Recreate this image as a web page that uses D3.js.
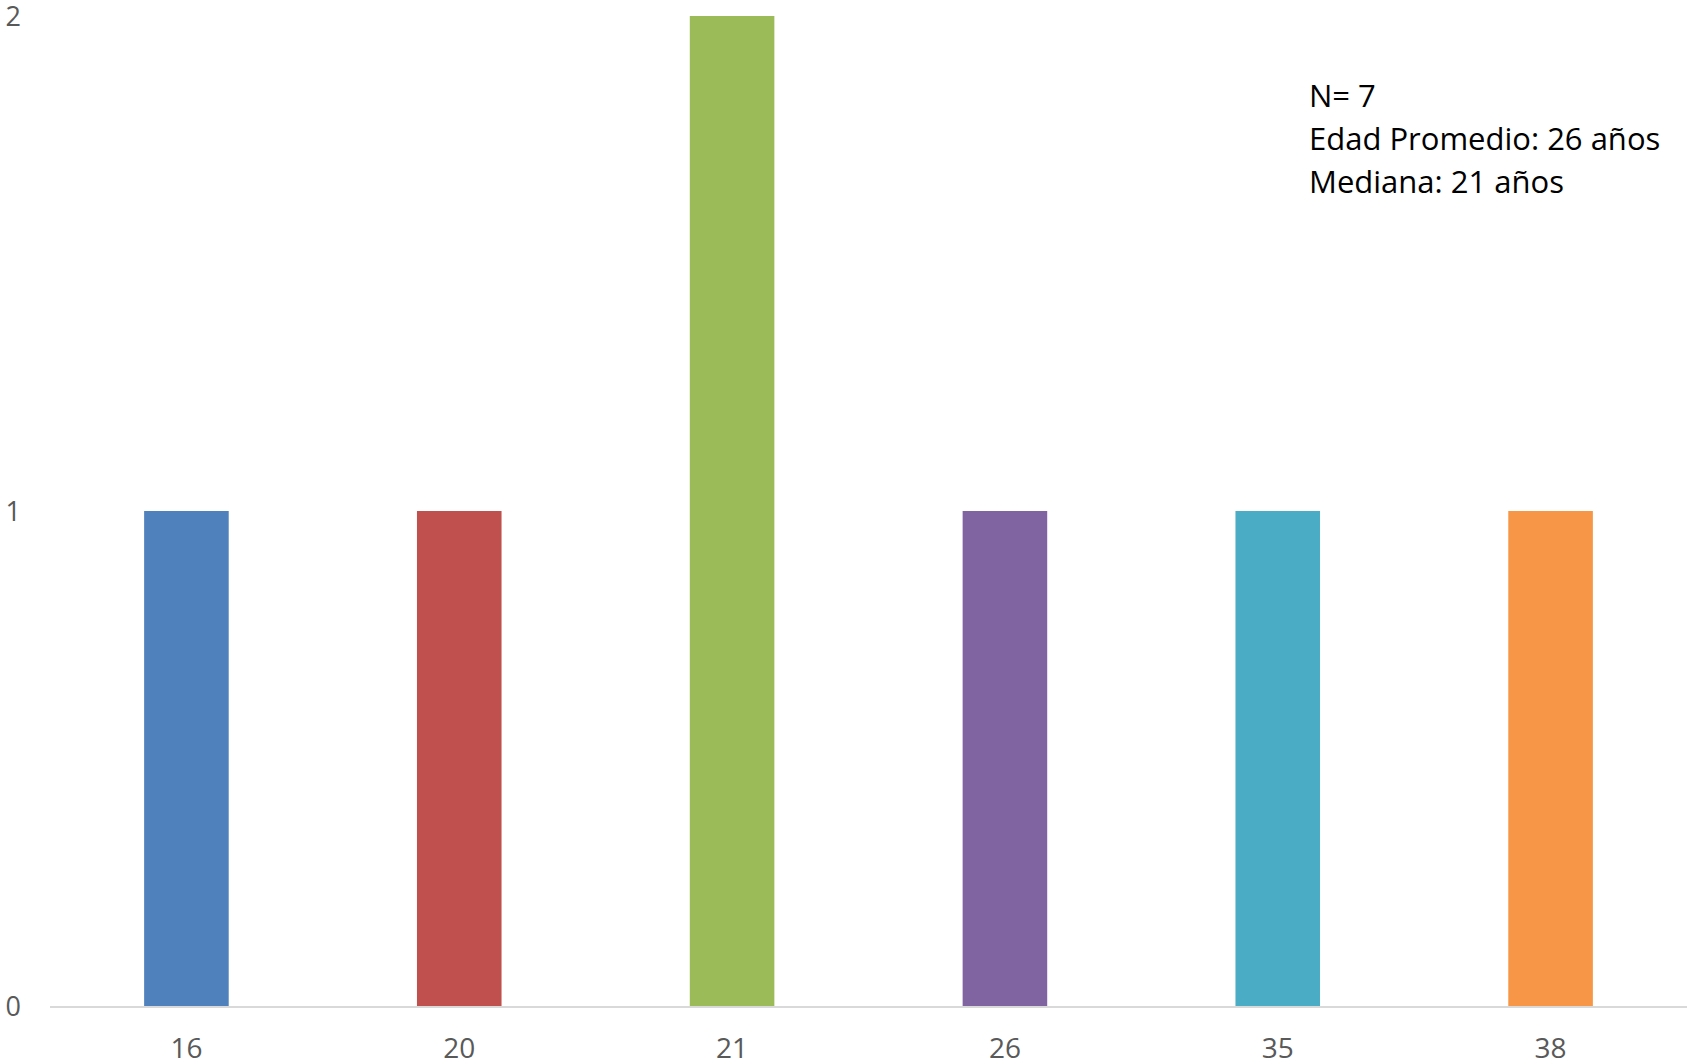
<!DOCTYPE html>
<html>
<head>
<meta charset="utf-8">
<script src="https://cdn.jsdelivr.net/npm/d3@7"></script>
<style>
  body { margin: 0; background: #fff; }
  svg { display: block; }
</style>
</head>
<body>
<div id="chart"></div>
<script>
const ages = ["16", "20", "21", "26", "35", "38"]
const counts = [1, 1, 2, 1, 1, 1]
const barColors = ["#4F81BD", "#C0504D", "#9BBB59", "#8064A2", "#4BACC6", "#F79646"]
const yTicks = [0, 1, 2]
const notes = ["N= 7", "Edad Promedio: 26 años", "Mediana: 21 años"]

const width = 1687
const height = 1064
const margin = { top: 16, right: 0, bottom: 58, left: 50 }

const svg = d3.select("#chart").append("svg")
    .attr("width", width)
    .attr("height", height)

const x = d3.scaleBand()
    .domain(ages)
    .range([margin.left, width - margin.right])
    .paddingInner(0.69)
    .paddingOuter(0.345)

const y = d3.scaleLinear()
    .domain([0, 2])
    .range([height - margin.bottom, margin.top])

svg.append("g")
    .selectAll("rect")
    .data(ages)
    .join("rect")
    .attr("x", d => x(d))
    .attr("y", (d, i) => y(counts[i]))
    .attr("width", x.bandwidth())
    .attr("height", (d, i) => y(0) - y(counts[i]))
    .attr("fill", (d, i) => barColors[i])

// baseline
svg.append("line")
    .attr("x1", margin.left)
    .attr("x2", width - margin.right)
    .attr("y1", y(0) + 1)
    .attr("y2", y(0) + 1)
    .attr("stroke", "#D9D9D9")
    .attr("stroke-width", 2)

const tickFont = "'Open Sans', sans-serif"

svg.append("g")
    .selectAll("text")
    .data(yTicks)
    .join("text")
    .attr("x", 21)
    .attr("y", d => y(d) + 10)
    .attr("text-anchor", "end")
    .attr("font-family", tickFont)
    .attr("font-size", 27)
    .attr("fill", "#595959")
    .text(d => d)

svg.append("g")
    .selectAll("text")
    .data(ages)
    .join("text")
    .attr("x", d => x(d) + x.bandwidth() / 2)
    .attr("y", 1058)
    .attr("text-anchor", "middle")
    .attr("font-family", tickFont)
    .attr("font-size", 28)
    .attr("fill", "#595959")
    .text(d => d)

svg.append("g")
    .selectAll("text")
    .data(notes)
    .join("text")
    .attr("x", 1309)
    .attr("y", (d, i) => 107 + i * 43)
    .attr("font-family", tickFont)
    .attr("font-size", 31)
    .attr("fill", "#000")
    .text(d => d)
</script>
</body>
</html>
